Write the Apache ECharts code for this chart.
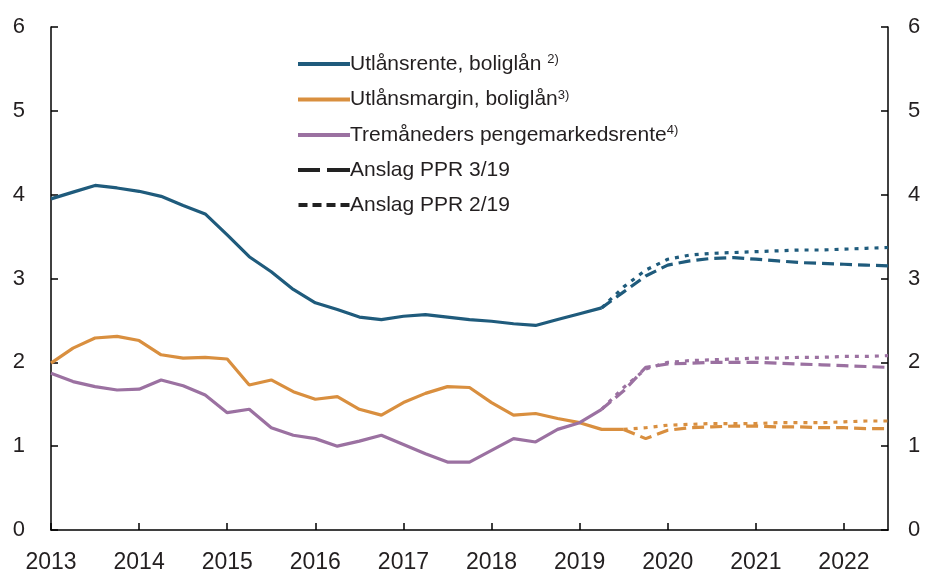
<!DOCTYPE html>
<html>
<head>
<meta charset="utf-8">
<script src="https://cdn.jsdelivr.net/npm/echarts@6/dist/echarts.min.js"></script>
<style>
  html, body { margin: 0; padding: 0; background: #fff; }
  #chart { width: 930px; height: 576px; }
</style>
</head>
<body>
<div id="chart"></div>
<script>
// kvartaler, 2013K1 - 2022K3
const quarters = [
  "2013K1","2013K2","2013K3","2013K4","2014K1","2014K2","2014K3","2014K4",
  "2015K1","2015K2","2015K3","2015K4","2016K1","2016K2","2016K3","2016K4",
  "2017K1","2017K2","2017K3","2017K4","2018K1","2018K2","2018K3","2018K4",
  "2019K1","2019K2","2019K3","2019K4","2020K1","2020K2","2020K3","2020K4",
  "2021K1","2021K2","2021K3","2021K4","2022K1","2022K2","2022K3"
];
const yTicks = [0, 1, 2, 3, 4, 5, 6];

// historiske tall
const utlansrente = [3.95, 4.03, 4.11, 4.08, 4.04, 3.98, 3.87, 3.77, 3.52, 3.26, 3.08, 2.87, 2.71,
  2.63, 2.54, 2.51, 2.55, 2.57, 2.54, 2.51, 2.49, 2.46, 2.44, 2.51, 2.58, 2.65];
const utlansmargin = [1.99, 2.17, 2.29, 2.31, 2.26, 2.09, 2.05, 2.06, 2.04, 1.73, 1.79, 1.65, 1.56,
  1.59, 1.44, 1.37, 1.52, 1.63, 1.71, 1.70, 1.52, 1.37, 1.39, 1.33, 1.28, 1.20, 1.20];
const pengemarkedsrente = [1.87, 1.77, 1.71, 1.67, 1.68, 1.79, 1.72, 1.61, 1.40, 1.44, 1.22, 1.13, 1.09,
  1.00, 1.06, 1.13, 1.02, 0.91, 0.81, 0.81, 0.95, 1.09, 1.05, 1.20, 1.28, 1.44];

// anslag fra 2019K2 (rente) / 2019K3 (margin)
const renteP319 = [2.65, 2.84, 3.03, 3.16, 3.21, 3.24, 3.25, 3.23, 3.21, 3.19, 3.18, 3.17, 3.16, 3.15];
const renteP219 = [2.65, 2.90, 3.10, 3.23, 3.28, 3.30, 3.31, 3.32, 3.33, 3.34, 3.34, 3.35, 3.36, 3.37];
const pengerP319 = [1.44, 1.66, 1.94, 1.98, 1.99, 2.00, 2.00, 2.00, 1.99, 1.98, 1.97, 1.96, 1.95, 1.94];
const pengerP219 = [1.44, 1.70, 1.92, 2.00, 2.02, 2.03, 2.04, 2.05, 2.05, 2.06, 2.06, 2.07, 2.07, 2.08];
const marginP319 = [1.20, 1.09, 1.19, 1.22, 1.23, 1.24, 1.24, 1.23, 1.23, 1.22, 1.22, 1.21, 1.21];
const marginP219 = [1.20, 1.22, 1.25, 1.26, 1.27, 1.27, 1.27, 1.28, 1.28, 1.28, 1.29, 1.30, 1.30];

const BLUE = "#1f5b7c", ORANGE = "#d98f3f", PURPLE = "#9b71a1", INK = "#231f20";
const FONT = "Liberation Sans";
const DASH = [12, 6], DOT = [4, 6];

// legend-ikoner som streker
const ICON_SOLID = "path://M0,0H52V4H0Z";
const ICON_DASH = "path://M0,0H22V4H0Z M29,0H52V4H29Z";
const ICON_DOT = "path://M0,0H9V4H0Z M14,0H23V4H14Z M28,0H37V4H28Z M42,0H51V4H42Z";

// plasser en serie fra gitt kvartal
const fromIndex = (arr, start) => quarters.map((_, i) => (i >= start && i - start < arr.length ? arr[i - start] : null));

const line = (name, data, color, type) => ({
  name, type: "line", data, symbol: "none", connectNulls: false,
  lineStyle: { color, width: 3.2, type: type || "solid" },
  itemStyle: { color }, z: type ? 2 : 3
});

const chart = echarts.init(document.getElementById("chart"));

const valueAxis = (position) => ({
  type: "value", position, min: 0, max: 6, interval: 1,
  axisLine: { show: true, lineStyle: { color: "#000", width: 1.5 } },
  axisTick: { show: true, inside: true, length: 7, lineStyle: { color: "#000", width: 1.5 } },
  axisLabel: { color: INK, fontSize: 22, fontFamily: FONT, margin: position === "left" ? 26 : 20,
    formatter: (v) => (yTicks.includes(v) ? String(v) : "") },
  splitLine: { show: false }
});

chart.setOption({
  animation: false,
  grid: { left: 51, right: 42, top: 27, bottom: 46 },
  legend: {
    orient: "vertical", left: 298, top: 53, padding: 0, itemWidth: 52, itemHeight: 4, itemGap: 14,
    textStyle: {
      color: INK, fontFamily: FONT, fontSize: 21, padding: [0, 0, 0, -5],
      rich: {
        m: { fontSize: 21, fontFamily: FONT, color: INK, lineHeight: 22 },
        s: { fontSize: 13, fontFamily: FONT, color: INK, lineHeight: 22, verticalAlign: "top", padding: [0, 0, 8, 0] }
      }
    },
    formatter: (name) => {
      const sup = { "Utlånsrente, boliglån": " {s|2)}", "Utlånsmargin, boliglån": "{s|3)}", "Tremåneders pengemarkedsrente": "{s|4)}" };
      return "{m|" + name + "}" + (sup[name] || "");
    },
    data: [
      { name: "Utlånsrente, boliglån", icon: ICON_SOLID },
      { name: "Utlånsmargin, boliglån", icon: ICON_SOLID },
      { name: "Tremåneders pengemarkedsrente", icon: ICON_SOLID },
      { name: "Anslag PPR 3/19", icon: ICON_DASH },
      { name: "Anslag PPR 2/19", icon: ICON_DOT }
    ]
  },
  xAxis: {
    type: "category", data: quarters, boundaryGap: false,
    axisLine: { lineStyle: { color: "#000", width: 1.5 } },
    axisTick: { inside: true, length: 7, interval: 3, lineStyle: { color: "#000", width: 1.5 } },
    axisLabel: { interval: 3, color: INK, fontSize: 23, fontFamily: FONT, margin: 21,
      formatter: (v) => v.slice(0, 4) },
    splitLine: { show: false }
  },
  yAxis: [valueAxis("left"), valueAxis("right")],
  series: [
    line("Utlånsrente, boliglån", utlansrente, BLUE),
    line("Utlånsmargin, boliglån", utlansmargin, ORANGE),
    line("Tremåneders pengemarkedsrente", pengemarkedsrente, PURPLE),
    line("Anslag PPR 3/19", [], "#222"),
    line("Anslag PPR 2/19", [], "#222"),
    line("rente 3/19", fromIndex(renteP319, 25), BLUE, DASH),
    line("rente 2/19", fromIndex(renteP219, 25), BLUE, DOT),
    line("penger 3/19", fromIndex(pengerP319, 25), PURPLE, DASH),
    line("penger 2/19", fromIndex(pengerP219, 25), PURPLE, DOT),
    line("margin 3/19", fromIndex(marginP319, 26), ORANGE, DASH),
    line("margin 2/19", fromIndex(marginP219, 26), ORANGE, DOT)
  ]
});
</script>
</body>
</html>
